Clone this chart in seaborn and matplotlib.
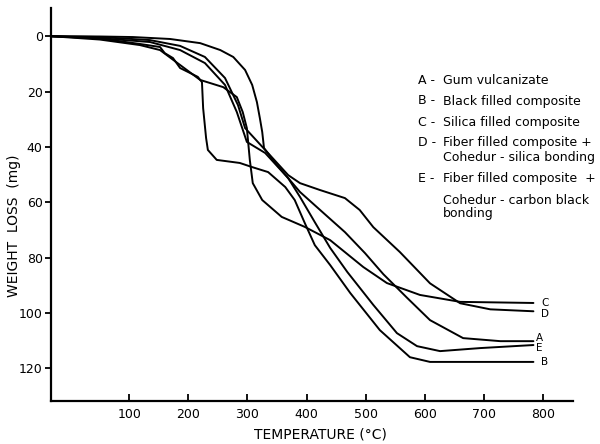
import matplotlib
matplotlib.use('Agg')
import pandas as pd
import matplotlib.pyplot as plt
import seaborn as sns

# curves: temperature (deg C) vs weight loss (mg)
temp_a = [-32, 50, 135, 186, 228, 262, 282, 299, 330, 369, 389, 423, 465, 499, 530, 570, 609, 665, 728, 784]
loss_a = [0, 0.7, 2.1, 5.0, 9.7, 17.6, 27.4, 38.2, 42.2, 51.3, 56.3, 62.8, 70.8, 78.4, 86.0, 94.5, 102.6, 109.1, 110.2, 110.2]

temp_b = [-32, 50, 118, 152, 160, 174, 186, 203, 216, 223, 225, 230, 233, 248, 287, 308, 335, 364, 380, 397, 414, 440, 474, 524, 575, 609, 784]
loss_b = [0, 0.8, 2.8, 3.9, 6.1, 7.9, 11.5, 13.3, 14.7, 16.6, 26.0, 36.8, 41.1, 44.7, 45.8, 47.3, 49.1, 54.5, 59.2, 67.5, 75.5, 82.7, 92.8, 106.2, 116.0, 117.7, 117.7]

temp_c = [-32, 50, 118, 152, 186, 220, 259, 282, 292, 299, 304, 309, 325, 358, 397, 440, 496, 536, 592, 660, 784]
loss_c = [0, 1.2, 3.2, 5.0, 10.4, 15.8, 18.4, 22.0, 27.4, 33.2, 44.7, 53.1, 59.2, 65.3, 68.9, 73.7, 83.4, 89.2, 93.5, 96.0, 96.4]

temp_d = [-32, 50, 135, 186, 228, 262, 284, 296, 330, 369, 389, 423, 465, 490, 513, 558, 609, 660, 711, 784]
loss_d = [0, 0.3, 1.4, 3.5, 7.5, 15.1, 24.9, 33.2, 41.1, 50.2, 53.1, 55.6, 58.5, 62.8, 69.0, 78.0, 89.3, 96.5, 98.7, 99.4]

temp_e = [-32, 50, 106, 169, 220, 254, 276, 296, 308, 316, 321, 325, 328, 347, 369, 389, 414, 440, 469, 513, 553, 587, 626, 694, 784]
loss_e = [0, 0.1, 0.3, 1.0, 2.5, 5.0, 7.5, 12.2, 17.6, 23.8, 29.6, 34.6, 40.4, 45.8, 51.3, 58.1, 67.2, 76.5, 85.2, 97.1, 107.3, 112.0, 113.8, 112.7, 111.6]

curve_names = ['A', 'B', 'C', 'D', 'E']
legend_text = [
    ('A -', 'Gum vulcanizate'),
    ('B -', 'Black filled composite'),
    ('C -', 'Silica filled composite'),
    ('D -', 'Fiber filled composite +'),
    ('', 'Cohedur - silica bonding'),
    ('E -', 'Fiber filled composite  +'),
    ('', 'Cohedur - carbon black'),
    ('', 'bonding'),
]
x_ticks = [100, 200, 300, 400, 500, 600, 700, 800]
y_ticks = [0, 20, 40, 60, 80, 100, 120]

frames = []
for name, t, w in zip(curve_names, [temp_a, temp_b, temp_c, temp_d, temp_e],
                      [loss_a, loss_b, loss_c, loss_d, loss_e]):
    frames.append(pd.DataFrame({'curve': name, 'temp': t, 'loss': w}))
tga = pd.concat(frames, ignore_index=True)

sns.set_style('ticks')
plt.rcParams['font.family'] = ['DejaVu Sans']
plt.rcParams['text.color'] = 'black'
plt.rcParams['axes.edgecolor'] = 'black'
plt.rcParams['xtick.color'] = 'black'
plt.rcParams['ytick.color'] = 'black'

fig = plt.figure(figsize=(6, 4.44), dpi=100)
ax = fig.add_axes([0.085, 0.097, 0.87, 0.885])

sns.lineplot(data=tga, x='temp', y='loss', units='curve', estimator=None, sort=False,
             color='black', lw=1.4, ax=ax)

ax.set_xlim(-32.5, 851)
ax.set_ylim(131.8, -10.2)
ax.set_xticks(x_ticks)
ax.set_yticks(y_ticks)
ax.tick_params(axis='x', direction='in', length=5, width=1.3, labelsize=9, pad=5, colors='black')
ax.tick_params(axis='y', direction='out', length=4, width=1.3, labelsize=9, pad=2, colors='black')
for s in ['top', 'right']:
    ax.spines[s].set_visible(False)
for s in ['left', 'bottom']:
    ax.spines[s].set_linewidth(1.6)
    ax.spines[s].set_color('black')

ax.set_xlabel('')
ax.set_ylabel('')
fig.text(320 / 600, 1 - 434 / 444, 'TEMPERATURE (°C)', fontsize=10, ha='center', va='center')
fig.text(14 / 600, 1 - 226 / 444, 'WEIGHT  LOSS  (mg)', fontsize=10, ha='center', va='center',
         rotation=90)

# end-of-curve letters
end_y = {'C': 96.4, 'D': 100.4, 'A': 109.0, 'E': 112.8, 'B': 117.8}
end_x = {'C': 797, 'D': 797, 'A': 789, 'E': 789, 'B': 797}
for k in end_y:
    ax.text(end_x[k], end_y[k], k, fontsize=7.5, ha='left', va='center')

# legend text block
rows_y = [81, 101, 122, 142, 157, 178, 200, 213]
for (lab, txt), py in zip(legend_text, rows_y):
    if lab:
        fig.text(418 / 600, 1 - py / 444, lab, fontsize=9, va='center')
    fig.text(443 / 600, 1 - py / 444, txt, fontsize=9, va='center')

fig.savefig('out.png', dpi=100)
